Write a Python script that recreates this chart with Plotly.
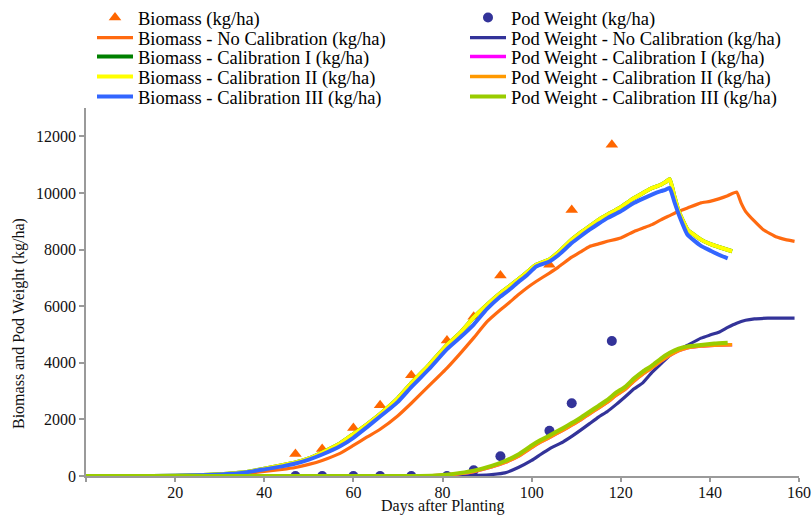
import plotly.graph_objects as go

# ---------------- data ----------------
obs_days = [47, 53, 60, 66, 73, 81, 87, 93, 104, 109, 118]
obs_biomass = [780, 950, 1700, 2500, 3560, 4790, 5630, 7080, 7460, 9400, 11700]
obs_pod = [0, 0, 0, 0, 0, 0, 200, 700, 1600, 2570, 4770]

bio_nocal_days = [0, 10, 20, 25, 30, 35, 40, 44, 47, 50, 53, 57, 60, 63, 66, 70, 73, 77, 81,
                  84, 87, 90, 93, 95, 97, 99, 101, 104, 106, 109, 111, 113, 115, 117, 120,
                  123, 125, 127, 129, 131, 133, 135, 138, 140, 142, 144, 146, 147, 148, 150,
                  152, 155, 157, 159]
bio_nocal = [0, 0, 5, 15, 35, 75, 160, 230, 300, 410, 550, 800, 1080, 1370, 1650, 2130, 2570,
             3190, 3810, 4330, 4880, 5450, 5870, 6130, 6400, 6650, 6870, 7170, 7380, 7730, 7920,
             8110, 8200, 8290, 8410, 8640, 8760, 8880, 9050, 9200, 9350, 9470, 9650, 9700, 9790,
             9900, 10030, 9650, 9350, 9000, 8700, 8440, 8350, 8290]

bio_cal_days = [0, 10, 20, 25, 30, 35, 40, 44, 47, 50, 53, 57, 60, 63, 66, 70, 73, 77, 81, 84,
                87, 90, 93, 95, 97, 99, 101, 104, 106, 109, 111, 113, 115, 117, 120, 123, 125,
                127, 129, 130, 131, 132, 133, 135, 138, 140, 142, 145]
bio_cal1 = [0, 0, 10, 25, 60, 120, 260, 380, 480, 620, 830, 1150, 1480, 1820, 2190, 2750, 3280,
            3930, 4630, 5060, 5600, 6050, 6460, 6700, 6950, 7200, 7460, 7650, 7900, 8350, 8600,
            8820, 9050, 9230, 9500, 9820, 10000, 10175, 10290, 10380, 10490, 9900, 9350, 8700,
            8350, 8200, 8090, 7940]
bio_cal2 = [0, 0, 10, 25, 60, 120, 260, 380, 480, 620, 830, 1150, 1480, 1820, 2190, 2750, 3280,
            3930, 4630, 5060, 5600, 6050, 6460, 6700, 6950, 7200, 7460, 7650, 7900, 8350, 8600,
            8820, 9050, 9230, 9500, 9820, 10000, 10175, 10290, 10380, 10490, 9900, 9350, 8700,
            8350, 8200, 8090, 7940]

bio_cal3_days = [0, 10, 20, 25, 30, 35, 40, 44, 47, 50, 53, 57, 60, 63, 66, 70, 73, 77, 81, 84,
                 87, 90, 93, 95, 97, 99, 101, 104, 106, 109, 111, 113, 115, 117, 120, 123, 125,
                 127, 129, 130, 131, 132, 133, 135, 138, 140, 142, 144]
bio_cal3 = [0, 0, 10, 25, 55, 110, 235, 340, 440, 580, 760, 1050, 1350, 1720, 2100, 2620, 3140,
            3780, 4480, 4900, 5350, 5900, 6340, 6580, 6850, 7100, 7400, 7580, 7800, 8230, 8470,
            8700, 8910, 9110, 9350, 9650, 9800, 9940, 10060, 10110, 10175, 9700, 9250, 8520,
            8130, 7970, 7815, 7690]

pod_nocal_days = [0, 80, 85, 88, 91, 94, 97, 100, 102, 104, 107, 109, 111, 113, 115, 117, 119,
                  121, 123, 125, 127, 129, 131, 133, 135, 138, 140, 142, 144, 146, 148, 150,
                  153, 156, 159]
pod_nocal = [0, 0, 5, 20, 50, 110, 300, 550, 760, 960, 1200, 1400, 1620, 1850, 2080, 2280, 2530,
             2800, 3080, 3300, 3660, 3960, 4260, 4450, 4620, 4870, 4980, 5080, 5250, 5400, 5500,
             5550, 5575, 5580, 5580]

pod_cal_days = [0, 75, 80, 84, 87, 91, 94, 97, 100, 102, 104, 107, 109, 111, 113, 115, 117, 119,
                121, 123, 125, 127, 129, 131, 133, 135, 138, 141, 145]
pod_cal1 = [0, 0, 30, 90, 160, 320, 480, 700, 1010, 1200, 1360, 1620, 1800, 1990, 2200, 2400,
            2610, 2860, 3070, 3360, 3610, 3820, 4060, 4270, 4430, 4530, 4590, 4620, 4640]
pod_cal2 = [0, 0, 30, 90, 160, 320, 480, 700, 1010, 1200, 1360, 1620, 1800, 1990, 2200, 2400,
            2610, 2860, 3070, 3360, 3610, 3820, 4060, 4270, 4430, 4530, 4590, 4620, 4640]

pod_cal3_days = [0, 75, 80, 84, 87, 91, 94, 97, 100, 102, 104, 107, 109, 111, 113, 115, 117, 119,
                 121, 123, 125, 127, 129, 131, 133, 135, 138, 141, 144]
pod_cal3 = [0, 0, 40, 110, 190, 360, 530, 760, 1080, 1270, 1430, 1690, 1870, 2060, 2270, 2480,
            2690, 2950, 3150, 3450, 3700, 3900, 4150, 4350, 4500, 4580, 4630, 4680, 4710]

x_tickvals = [0, 20, 40, 60, 80, 100, 120, 140, 160]
x_ticktext = ["", "20", "40", "60", "80", "100", "120", "140", "160"]
y_tickvals = [0, 2000, 4000, 6000, 8000, 10000, 12000]
y_ticktext = ["0", "2000", "4000", "6000", "8000", "10000", "12000"]

# ---------------- figure ----------------
W, H = 812, 515
FONT = "Liberation Serif"
fig = go.Figure()

rows_y = [18, 38, 57, 77, 97]
LEFT_TEXT, RIGHT_TEXT = 139, 512
ITEMW = 36


def leg(name, col, row):
    xt = LEFT_TEXT if col == 0 else RIGHT_TEXT
    fig.layout[name] = dict(
        xref="container", yref="container",
        x=(xt - ITEMW - 11) / W, y=1 - rows_y[row] / H,
        xanchor="left", yanchor="middle",
        bgcolor="rgba(0,0,0,0)", borderwidth=0,
        font=dict(family=FONT, size=18.5, color="#000"),
        itemwidth=ITEMW,
    )


names = ["legend"] + ["legend%d" % i for i in range(2, 11)]
slots = [(0, 0), (1, 0), (0, 1), (0, 2), (0, 3), (0, 4), (1, 1), (1, 2), (1, 3), (1, 4)]
for n, (c, r) in zip(names, slots):
    leg(n, c, r)

fig.add_trace(go.Scatter(x=obs_days, y=obs_biomass, mode="markers", name="Biomass (kg/ha)",
                         marker=dict(symbol="triangle-up", size=11, color="#FF6600"),
                         legend="legend"))
fig.add_trace(go.Scatter(x=obs_days, y=obs_pod, mode="markers", name="Pod Weight (kg/ha)",
                         marker=dict(symbol="circle", size=10, color="#333399"),
                         legend="legend2"))

lines = [
    (bio_nocal_days, bio_nocal, "Biomass - No Calibration (kg/ha)", "#FF6A10", 3.2, "legend3"),
    (bio_cal_days, bio_cal1, "Biomass - Calibration I (kg/ha)", "#008000", 4.0, "legend4"),
    (bio_cal_days, bio_cal2, "Biomass - Calibration II (kg/ha)", "#FFFF00", 4.0, "legend5"),
    (bio_cal3_days, bio_cal3, "Biomass - Calibration III (kg/ha)", "#3366FF", 4.0, "legend6"),
    (pod_nocal_days, pod_nocal, "Pod Weight - No Calibration (kg/ha)", "#333399", 3.2, "legend7"),
    (pod_cal_days, pod_cal1, "Pod Weight - Calibration I (kg/ha)", "#FF00FF", 3.5, "legend8"),
    (pod_cal_days, pod_cal2, "Pod Weight - Calibration II (kg/ha)", "#FF9900", 3.5, "legend9"),
    (pod_cal3_days, pod_cal3, "Pod Weight - Calibration III (kg/ha)", "#99CC00", 4.0, "legend10"),
]
for xs, ys, nm, col, w, lg in lines:
    fig.add_trace(go.Scatter(x=xs, y=ys, mode="lines", name=nm,
                             line=dict(color=col, width=w, shape="spline", smoothing=0.4),
                             legend=lg))

axis_gray = "#9A9A9A"
tfont = dict(family=FONT, size=16, color="#111")
fig.update_layout(
    width=W, height=H,
    margin=dict(l=86, r=13, t=108, b=39, autoexpand=False),
    paper_bgcolor="white", plot_bgcolor="white",
    font=dict(family=FONT, size=16, color="#000"),
    showlegend=True,
    xaxis=dict(range=[0, 160], tickvals=x_tickvals, ticktext=x_ticktext,
               showgrid=False, zeroline=False, showline=True, linecolor=axis_gray,
               linewidth=1.5, ticks="outside", ticklen=4, tickcolor=axis_gray, tickwidth=1.5,
               tickfont=tfont),
    yaxis=dict(range=[0, 13000], tickvals=y_tickvals, ticktext=y_ticktext,
               showgrid=False, zeroline=False, showline=True, linecolor=axis_gray,
               linewidth=1.5, ticks="outside", ticklen=5, tickcolor=axis_gray, tickwidth=1.5,
               tickfont=tfont),
    annotations=[
        dict(text="Days after Planting", xref="paper", yref="paper", x=0.5,
             y=(476 - 506) / 368, xanchor="center", yanchor="middle", showarrow=False,
             font=tfont),
        dict(text="Biomass and Pod Weight (kg/ha)", xref="paper", yref="paper",
             x=(19 - 86) / 713, y=(476 - 324) / 368, xanchor="center", yanchor="middle",
             textangle=-90, showarrow=False, font=tfont),
    ],
)
try:
    fig.update_xaxes(ticklabelstandoff=-3)
except Exception:
    pass

fig.write_html("out.html", config={"displayModeBar": False},
               post_script="document.body.style.margin='0';")
